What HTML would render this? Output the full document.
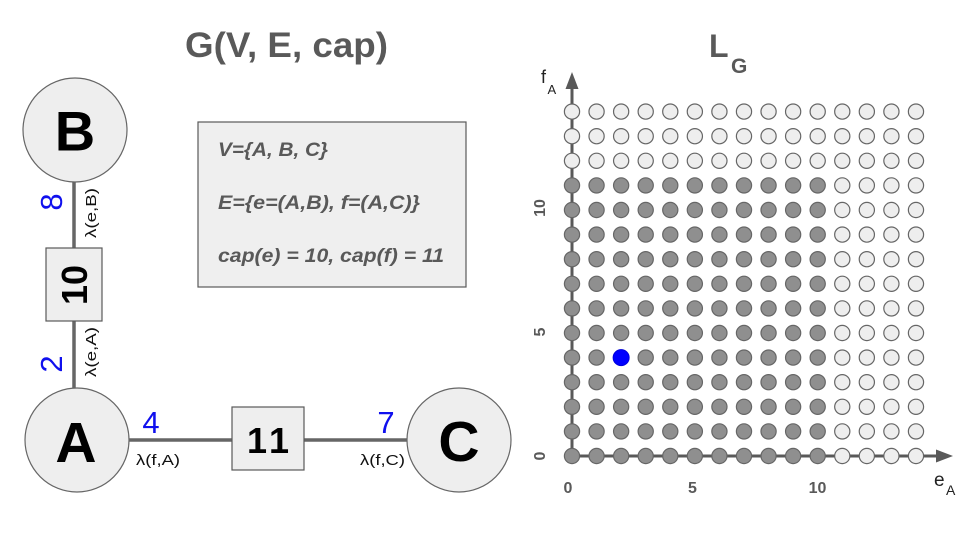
<!DOCTYPE html>
<html>
<head>
<meta charset="utf-8">
<style>
  html,body{margin:0;padding:0;background:#fff;}
  svg{display:block;}
  text{font-family:"Liberation Sans",Arial,sans-serif;}
</style>
</head>
<body>
<svg width="960" height="540" viewBox="0 0 960 540" xmlns="http://www.w3.org/2000/svg">
  <defs>
    <circle id="d" r="7.6" fill="#8f8f8f" stroke="#666" stroke-width="1.2"/>
    <circle id="l" r="7.6" fill="#eeeeee" stroke="#666" stroke-width="1.2"/>
    <g id="rd">
      <use href="#d" x="0"/><use href="#d" x="24.57"/><use href="#d" x="49.14"/><use href="#d" x="73.71"/>
      <use href="#d" x="98.28"/><use href="#d" x="122.85"/><use href="#d" x="147.42"/><use href="#d" x="171.99"/>
      <use href="#d" x="196.56"/><use href="#d" x="221.13"/><use href="#d" x="245.7"/>
      <use href="#l" x="270.27"/><use href="#l" x="294.84"/><use href="#l" x="319.41"/><use href="#l" x="343.98"/>
    </g>
    <g id="rl">
      <use href="#l" x="0"/><use href="#l" x="24.57"/><use href="#l" x="49.14"/><use href="#l" x="73.71"/>
      <use href="#l" x="98.28"/><use href="#l" x="122.85"/><use href="#l" x="147.42"/><use href="#l" x="171.99"/>
      <use href="#l" x="196.56"/><use href="#l" x="221.13"/><use href="#l" x="245.7"/>
      <use href="#l" x="270.27"/><use href="#l" x="294.84"/><use href="#l" x="319.41"/><use href="#l" x="343.98"/>
    </g>
  </defs>

  <!-- Titles -->
  <text x="286.5" y="57" font-size="35" font-weight="bold" fill="#595959" text-anchor="middle" textLength="203" lengthAdjust="spacingAndGlyphs">G(V, E, cap)</text>
  <text x="709" y="57" font-size="32" font-weight="bold" fill="#595959">L</text>
  <text x="731" y="73" font-size="21" font-weight="bold" fill="#595959">G</text>

  <!-- Left graph edges -->
  <line x1="74" y1="180" x2="74" y2="390" stroke="#666" stroke-width="3.5"/>
  <line x1="128" y1="440" x2="408" y2="440" stroke="#666" stroke-width="3.5"/>

  <!-- Nodes -->
  <circle cx="75" cy="130" r="52" fill="#eeeeee" stroke="#666" stroke-width="1.2"/>
  <text x="75" y="150.5" font-size="56" font-weight="bold" fill="#000" text-anchor="middle">B</text>
  <circle cx="77" cy="440" r="52" fill="#eeeeee" stroke="#666" stroke-width="1.2"/>
  <text x="76" y="462" font-size="57" font-weight="bold" fill="#000" text-anchor="middle">A</text>
  <circle cx="459" cy="440" r="52" fill="#eeeeee" stroke="#666" stroke-width="1.2"/>
  <text x="459" y="461" font-size="57" font-weight="bold" fill="#000" text-anchor="middle">C</text>

  <!-- Capacity boxes -->
  <rect x="46" y="248" width="56" height="73" fill="#eeeeee" stroke="#595959" stroke-width="1.2"/>
  <text transform="translate(87,285) rotate(-90)" font-size="36" font-weight="bold" fill="#000" text-anchor="middle">10</text>
  <rect x="232" y="407" width="72" height="63" fill="#eeeeee" stroke="#595959" stroke-width="1.2"/>
  <text x="268" y="453" font-size="36" font-weight="bold" fill="#000" text-anchor="middle" textLength="42" lengthAdjust="spacing">11</text>

  <!-- Blue values -->
  <text transform="translate(62,202) rotate(-90)" font-size="31" fill="#1010ee" text-anchor="middle">8</text>
  <text transform="translate(62,364) rotate(-90)" font-size="31" fill="#1010ee" text-anchor="middle">2</text>
  <text x="151" y="433" font-size="31" fill="#1010ee" text-anchor="middle">4</text>
  <text x="386" y="433" font-size="31" fill="#1010ee" text-anchor="middle">7</text>

  <!-- lambda labels -->
  <text transform="translate(96,213) rotate(-90)" font-size="15" fill="#111" text-anchor="middle" textLength="50" lengthAdjust="spacingAndGlyphs">λ(e,B)</text>
  <text transform="translate(96,352) rotate(-90)" font-size="15" fill="#111" text-anchor="middle" textLength="50" lengthAdjust="spacingAndGlyphs">λ(e,A)</text>
  <text x="136" y="465" font-size="15" fill="#111" textLength="44" lengthAdjust="spacingAndGlyphs">λ(f,A)</text>
  <text x="360" y="465" font-size="15" fill="#111" textLength="45" lengthAdjust="spacingAndGlyphs">λ(f,C)</text>

  <!-- Definition box -->
  <rect x="198" y="122" width="268" height="165" fill="#efefef" stroke="#595959" stroke-width="1.2"/>
  <g font-size="19" font-weight="bold" font-style="italic" fill="#595959">
    <text x="218" y="156" textLength="110" lengthAdjust="spacingAndGlyphs">V={A, B, C}</text>
    <text x="218" y="209" textLength="202" lengthAdjust="spacingAndGlyphs">E={e=(A,B), f=(A,C)}</text>
    <text x="218" y="262" textLength="226" lengthAdjust="spacingAndGlyphs">cap(e) = 10, cap(f) = 11</text>
  </g>

  <!-- Axes -->
  <line x1="572" y1="457.5" x2="572" y2="86" stroke="#595959" stroke-width="3"/>
  <line x1="570.5" y1="456" x2="938" y2="456" stroke="#595959" stroke-width="3"/>
  <polygon points="565.5,89 578.5,89 572,72" fill="#595959"/>
  <polygon points="936,449.5 936,462.5 953,456" fill="#595959"/>

  <!-- Lattice points -->
  <g transform="translate(572,0)">
    <use href="#rd" y="456"/>
    <use href="#rd" y="431.4"/>
    <use href="#rd" y="406.8"/>
    <use href="#rd" y="382.2"/>
    <use href="#rd" y="357.6"/>
    <use href="#rd" y="333"/>
    <use href="#rd" y="308.4"/>
    <use href="#rd" y="283.8"/>
    <use href="#rd" y="259.2"/>
    <use href="#rd" y="234.6"/>
    <use href="#rd" y="210"/>
    <use href="#rd" y="185.4"/>
    <use href="#rl" y="160.8"/>
    <use href="#rl" y="136.2"/>
    <use href="#rl" y="111.6"/>
  </g>
  <circle cx="621.14" cy="357.6" r="8" fill="#0000ff" stroke="#0000dd" stroke-width="1"/>

  <!-- Axis labels -->
  <text x="541" y="83" font-size="18" fill="#222">f</text>
  <text x="547.5" y="94" font-size="13" fill="#222">A</text>
  <text x="934" y="486" font-size="19" fill="#222">e</text>
  <text x="946" y="495" font-size="14" fill="#222">A</text>

  <!-- Tick labels -->
  <g font-size="16" font-weight="bold" fill="#595959" text-anchor="middle">
    <text x="568" y="493">0</text>
    <text x="692.5" y="493">5</text>
    <text x="817.5" y="493">10</text>
    <text transform="translate(545,456) rotate(-90)">0</text>
    <text transform="translate(545,332) rotate(-90)">5</text>
    <text transform="translate(545,208) rotate(-90)">10</text>
  </g>
</svg>
</body>
</html>
